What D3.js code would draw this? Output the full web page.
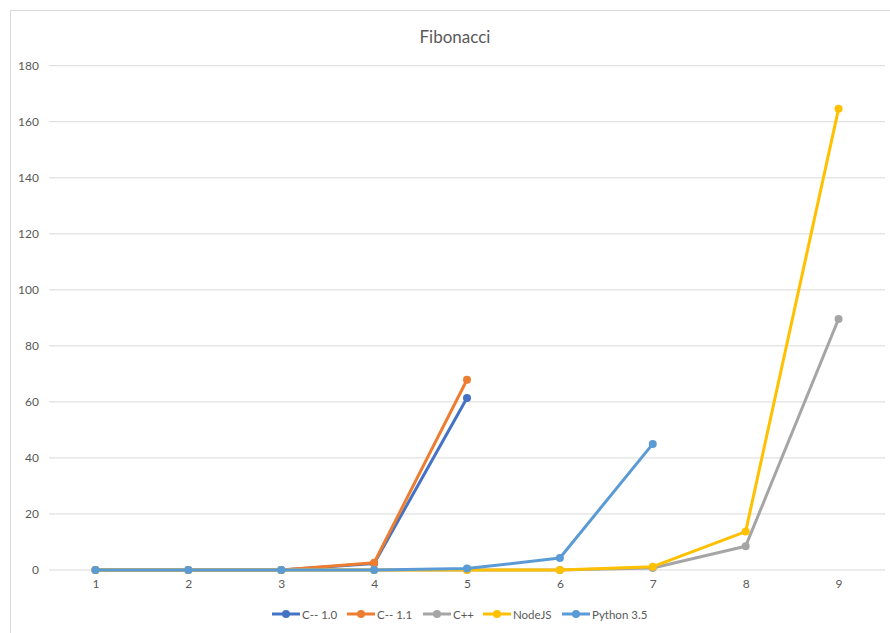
<!DOCTYPE html>
<html>
<head>
<meta charset="utf-8">
<script src="https://cdn.jsdelivr.net/npm/d3@7"></script>
<style>
  html, body { margin: 0; padding: 0; background: #fff; }
  svg { display: block; }
  text { font-family: "Lato", "Open Sans", sans-serif; fill: #595959; }
</style>
</head>
<body>
<svg id="chart" width="890" height="633"></svg>
<script>
// Run index (x axis)
const categories = [1, 2, 3, 4, 5, 6, 7, 8, 9];

// Timings per implementation (null = not measured)
const cmm10   = [0, 0, 0, 2.3, 61.4, null, null, null, null];
const cmm11   = [0, 0, 0, 2.6, 67.9, null, null, null, null];
const cpp     = [0, 0, 0, 0, 0, 0, 0.7, 8.5, 89.6];
const nodejs  = [0, 0, 0, 0, 0, 0, 1.2, 13.7, 164.6];
const python  = [0, 0, 0, 0, 0.5, 4.3, 45, null, null];

const seriesNames = ["C-- 1.0", "C-- 1.1", "C++", "NodeJS", "Python 3.5"];
const seriesColors = ["#4472C4", "#ED7D31", "#A5A5A5", "#FFC000", "#5B9BD5"];
const yTicks = [0, 20, 40, 60, 80, 100, 120, 140, 160, 180];

const series = [cmm10, cmm11, cpp, nodejs, python].map((vals, i) => ({
  name: seriesNames[i],
  color: seriesColors[i],
  values: vals.map((v, j) => ({ x: categories[j], y: v }))
}));

const svg = d3.select("#chart");

// Chart frame
svg.append("rect")
  .attr("x", 10.5).attr("y", 10.5)
  .attr("width", 890).attr("height", 640)
  .attr("fill", "#fff")
  .attr("stroke", "#d9d9d9");

const x = d3.scalePoint().domain(categories).range([49, 885]).padding(0.5);
const y = d3.scaleLinear().domain([0, 180]).range([570, 65.7]);

// Gridlines
svg.append("g")
  .selectAll("line")
  .data(yTicks)
  .join("line")
  .attr("x1", 49).attr("x2", 885)
  .attr("y1", d => y(d)).attr("y2", d => y(d))
  .attr("stroke", "#d9d9d9")
  .attr("stroke-width", 1);

// Y axis labels
const yAxis = d3.axisLeft(y).tickValues(yTicks).tickSize(0).tickPadding(0);
svg.append("g")
  .attr("transform", "translate(39,0)")
  .call(yAxis)
  .call(g => g.select(".domain").remove())
  .call(g => g.selectAll("text")
    .attr("fill", "#595959")
    .style("font-size", "12px")
    .style("font-family", "Lato, 'Open Sans', sans-serif"));

// X axis labels
const xAxis = d3.axisBottom(x).tickSize(0).tickPadding(0);
svg.append("g")
  .attr("transform", "translate(0,579)")
  .call(xAxis)
  .call(g => g.select(".domain").remove())
  .call(g => g.selectAll("text")
    .attr("fill", "#595959")
    .style("font-size", "12px")
    .style("font-family", "Lato, 'Open Sans', sans-serif"));

// Title
svg.append("text")
  .attr("x", 455).attr("y", 43)
  .attr("text-anchor", "middle")
  .style("font-size", "17px")
  .text("Fibonacci");

// Lines and markers
const line = d3.line()
  .defined(d => d.y !== null)
  .x(d => x(d.x))
  .y(d => y(d.y));

const sg = svg.append("g")
  .selectAll("g")
  .data(series)
  .join("g");

sg.append("path")
  .attr("d", d => line(d.values))
  .attr("fill", "none")
  .attr("stroke", d => d.color)
  .attr("stroke-width", 3)
  .attr("stroke-linejoin", "round")
  .attr("stroke-linecap", "round");

sg.selectAll("circle")
  .data(d => d.values.filter(v => v.y !== null).map(v => ({ ...v, color: d.color })))
  .join("circle")
  .attr("cx", d => x(d.x))
  .attr("cy", d => y(d.y))
  .attr("r", 4)
  .attr("fill", d => d.color);

// Legend
const legendX = [272, 347, 423, 483, 562];
const legend = svg.append("g")
  .selectAll("g")
  .data(series)
  .join("g")
  .attr("transform", (d, i) => `translate(${legendX[i]},614)`);

legend.append("line")
  .attr("x1", 0).attr("x2", 28)
  .attr("stroke", d => d.color)
  .attr("stroke-width", 3);
legend.append("circle")
  .attr("cx", 14).attr("r", 4)
  .attr("fill", d => d.color);
legend.append("text")
  .attr("x", 30).attr("y", 4.5)
  .style("font-size", "11.5px")
  .text(d => d.name);
</script>
</body>
</html>
